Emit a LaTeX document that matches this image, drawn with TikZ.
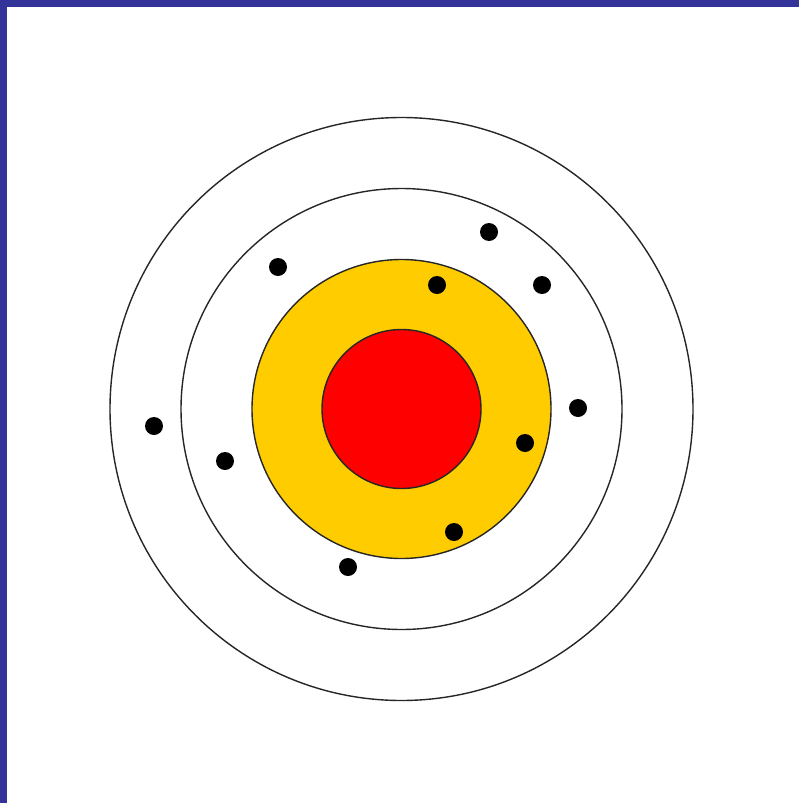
\documentclass[tikz,border=0pt]{standalone}
\usepackage{tikz}

\definecolor{frameblue}{HTML}{333399}
\definecolor{ringyellow}{HTML}{FFCC00}
\definecolor{bullred}{HTML}{FF0000}

\begin{document}
\begin{tikzpicture}[
    x=0.5pt, y=-0.5pt,
    ring/.style={draw=black!85, line width=0.7pt},
    shot/.style={circle, fill=black, inner sep=0pt, minimum size=9pt}
]
\useasboundingbox (0,0) rectangle (799,803);
% frame
\fill[white] (0,0) rectangle (799,803);
\fill[frameblue] (0,0) rectangle (799,7);
\fill[frameblue] (0,0) rectangle (7,803);

% target rings
\coordinate (centre) at (401.5,409);
\draw[ring] (centre) circle[radius=291.5*0.5pt];
\draw[ring] (centre) circle[radius=220.5*0.5pt];
\draw[ring, fill=ringyellow] (centre) circle[radius=149.5*0.5pt];
\draw[ring, fill=bullred] (centre) circle[radius=79.5*0.5pt];

% shots
\foreach \px/\py [count=\i] in {489/232, 278/267, 437/285, 542/285, 578/408,
    154/426, 225/461, 525/443, 454/532, 348/567}
  \node[shot] (shot\i) at (\px,\py) {};
\end{tikzpicture}
\end{document}
